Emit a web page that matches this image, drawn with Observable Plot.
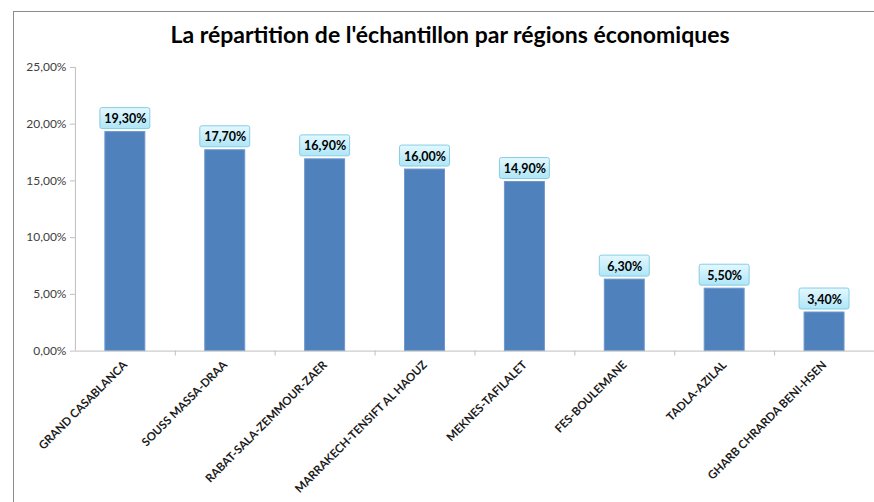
<!DOCTYPE html>
<html>
<head>
<meta charset="utf-8">
<script src="https://cdn.jsdelivr.net/npm/d3@7"></script>
<script src="https://cdn.jsdelivr.net/npm/@observablehq/plot@0.6"></script>
<style>
  html, body { margin: 0; padding: 0; background: #fff; overflow: hidden; }
  #wrap { position: relative; width: 874px; height: 502px; overflow: hidden; font-family: Lato, "Open Sans", sans-serif; }
  #frame { position: absolute; left: 13px; top: 11px; width: 900px; height: 600px; border-left: 1px solid #8c8c8c; border-top: 1px solid #8c8c8c; }
  #title { position: absolute; left: 0; width: 900px; top: 20px; text-align: center; font-weight: bold; font-size: 23px; color: #000; }
  #chart { position: absolute; left: 0; top: 0; }
</style>
</head>
<body>
<div id="wrap">
  <div id="frame"></div>
  <div id="title">La répartition de l'échantillon par régions économiques</div>
  <div id="chart"></div>
</div>
<script>
const regions = [
  "GRAND CASABLANCA",
  "SOUSS MASSA-DRAA",
  "RABAT-SALA-ZEMMOUR-ZAER",
  "MARRAKECH-TENSIFT AL HAOUZ",
  "MEKNES-TAFILALET",
  "FES-BOULEMANE",
  "TADLA-AZILAL",
  "GHARB CHRARDA BENI-HSEN"
];
const shares = [19.3, 17.7, 16.9, 16.0, 14.9, 6.3, 5.5, 3.4];
const yTicks = [0, 5, 10, 15, 20, 25];

const data = regions.map((r, i) => ({region: r, value: shares[i]}));
const fmt = v => v.toFixed(2).replace(".", ",") + "%";

const chart = Plot.plot({
  width: 875,
  height: 502,
  marginLeft: 75,
  marginRight: 0,
  marginTop: 67,
  marginBottom: 151,
  style: {fontFamily: "Lato, 'Open Sans', sans-serif", background: "transparent", overflow: "visible"},
  x: {domain: regions, paddingInner: 0.6, paddingOuter: 0.3, label: null},
  y: {domain: [0, 25], label: null},
  marks: [
    Plot.axisY({ticks: yTicks, tickFormat: fmt, tickSize: 5, tickPadding: 4, stroke: "#bfbfbf", fill: "#404040", fontSize: 12}),
    Plot.ruleX([0], {x: () => regions[0], dx: -50, stroke: "#bfbfbf"}),
    Plot.axisX({tickRotate: -45, tickSize: 0, tickPadding: 12, fontWeight: "bold", fontSize: 11.5, fill: "#1a1a1a"}),
    Plot.ruleX(regions, {x: d => d, dx: 50, y1: 0, y2: 0, insetTop: 0, insetBottom: -5, stroke: "#bfbfbf"}),
    Plot.barY(data, {x: "region", y: "value", fill: "#4f81bd", stroke: "#6d97cc", strokeWidth: 1}),
    Plot.ruleY([0], {stroke: "#bfbfbf"}),
    Plot.rect(data, {x: "region", y1: "value", y2: "value", insetTop: -24, insetBottom: 3, insetLeft: -5, insetRight: -5, fill: "url(#boxgrad)", stroke: "#86cde3", strokeWidth: 1, rx: 2, ariaLabel: "labelbox"}),
    Plot.text(data, {x: "region", y: "value", text: d => fmt(d.value), dy: -13, fontWeight: "bold", fontSize: 12.5, fill: "#000"})
  ]
});

d3.select(chart).insert("defs", ":first-child").html(
  '<linearGradient id="boxgrad" x1="0" y1="0" x2="0" y2="1">' +
  '<stop offset="0" stop-color="#e4f8ff"/><stop offset="1" stop-color="#aee6f7"/></linearGradient>' +
  '<filter id="sh" x="-20%" y="-20%" width="140%" height="160%"><feDropShadow dx="1" dy="1.5" stdDeviation="1" flood-color="#000" flood-opacity="0.3"/></filter>'
);
d3.select(chart).selectAll('g[aria-label="labelbox"] rect').attr("filter", "url(#sh)");

document.getElementById("chart").appendChild(chart);
</script>
</body>
</html>
